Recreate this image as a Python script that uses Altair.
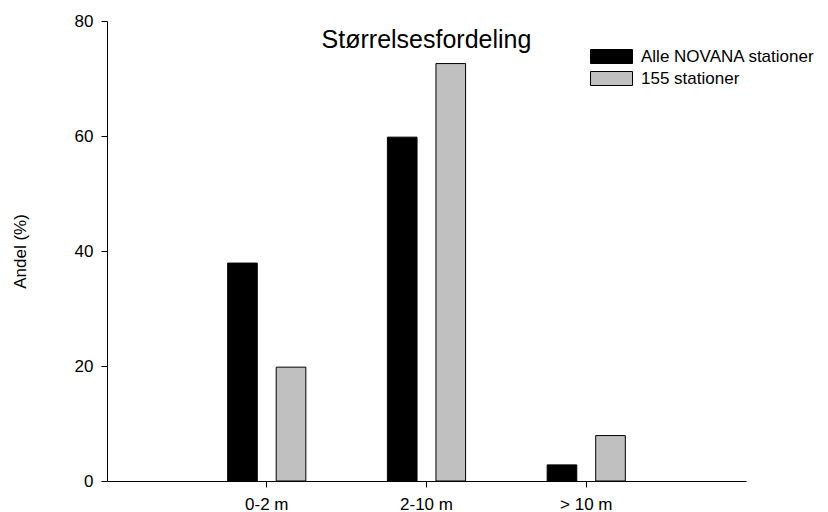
import altair as alt
import pandas as pd

categories = ["0-2 m", "2-10 m", "> 10 m"]
series = ["Alle NOVANA stationer", "155 stationer"]
alle_novana = [37.9, 59.8, 2.8]
stationer_155 = [19.8, 72.6, 7.9]
colors = ["#000000", "#c0c0c0"]
y_ticks = [0, 20, 40, 60, 80]
title_text = "Størrelsesfordeling"

rows = []
for c, a, b in zip(categories, alle_novana, stationer_155):
    rows.append({"kat": c, "serie": series[0], "andel": a})
    rows.append({"kat": c, "serie": series[1], "andel": b})
df = pd.DataFrame(rows)

FONT = "Liberation Sans"
W, H = 639, 460

bars = alt.Chart(df).mark_bar(stroke="black", strokeWidth=1).encode(
    x=alt.X("kat:N", sort=categories,
            scale=alt.Scale(paddingInner=0, paddingOuter=0.5),
            axis=alt.Axis(title=None, labelAngle=0, labelFontSize=17, labelFont=FONT,
                          labelColor="black", tickSize=6, tickColor="black",
                          domainColor="black", labelPadding=9, grid=False)),
    xOffset=alt.XOffset("serie:N", sort=series,
                        scale=alt.Scale(paddingInner=0.39, paddingOuter=0.84)),
    y=alt.Y("andel:Q", scale=alt.Scale(domain=[0, 80], nice=False),
            axis=alt.Axis(title="Andel (%)", values=y_ticks, labelFontSize=17, labelFont=FONT,
                          labelColor="black", tickSize=6, tickColor="black",
                          domainColor="black", labelPadding=8, grid=False,
                          titleFontSize=17, titleFont=FONT, titleFontWeight="normal",
                          titleColor="black", titlePadding=45)),
    color=alt.Color("serie:N", sort=series,
                    scale=alt.Scale(domain=series, range=colors),
                    legend=alt.Legend(title=None, orient="none", legendX=496, legendY=27,
                                      symbolType="M-3,-1L3,-1L3,1L-3,1Z",
                                      symbolSize=196, symbolStrokeColor="black",
                                      symbolStrokeWidth=1, labelFontSize=17,
                                      labelFont=FONT, labelColor="black", labelLimit=400,
                                      labelOffset=21, rowPadding=3, padding=0)),
)

title = alt.Chart(pd.DataFrame({"t": [title_text]})).mark_text(
    font=FONT, fontSize=25, baseline="alphabetic", align="center", color="black"
).encode(text="t:N", x=alt.value(W / 2), y=alt.value(26.5))

chart = alt.layer(bars, title).properties(
    width=W, height=H,
    background="white",
    autosize=alt.AutoSizeParams(type="none"),
    padding={"left": 99, "top": 13, "right": 74, "bottom": 32},
).configure_view(stroke=None)

chart.save("out.html", embed_options={"renderer": "svg", "actions": False})
